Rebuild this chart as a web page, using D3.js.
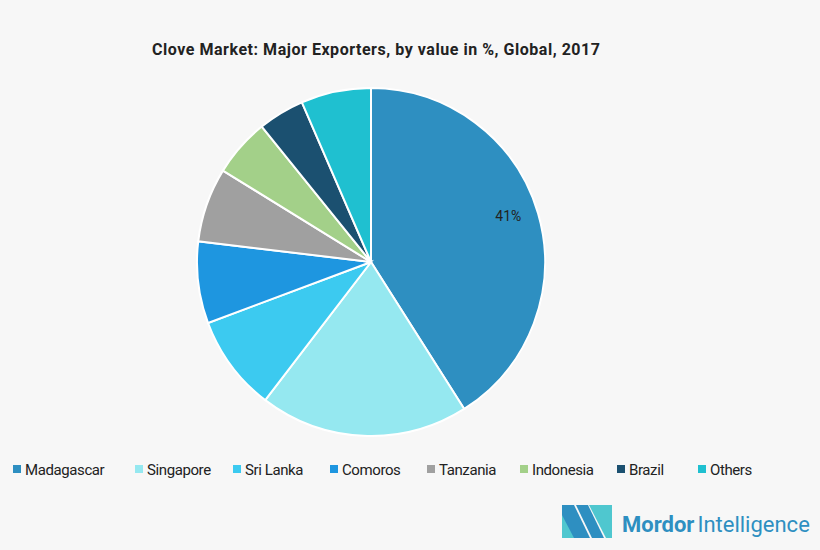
<!DOCTYPE html><html><head><meta charset="utf-8"><script src="https://d3js.org/d3.v7.min.js"></script>
<style>body{margin:0;background:#f7f7f7}text{font-family:Roboto,sans-serif}</style></head><body>
<svg id="c" width="820" height="550"></svg>
<script>
const categories=["Madagascar","Singapore","Sri Lanka","Comoros","Tanzania","Indonesia","Brazil","Others"];
const values=[41,19.4,8.9,7.6,6.9,5.4,4.3,6.5];
const labels=["41%","","","","","","",""];
const colors=["#2e8fc1","#95e8f0","#3ccaf0","#1e96e0","#a0a0a0","#a3d089","#1b5070","#1fc0d0"];
const legendX=[13,135,233,330,427,520,617,698];
const svg=d3.select("#c");
svg.append("rect").attr("width",820).attr("height",550).attr("fill","#f7f7f7");
svg.append("text").attr("x",376).attr("y",55).attr("text-anchor","middle").attr("font-size",16).attr("font-weight","bold").attr("fill","#222").attr("textLength",448).text("Clove Market: Major Exporters, by value in %, Global, 2017");
const pie=d3.pie().sort(null)(values);
const arc=d3.arc().innerRadius(0).outerRadius(174);
const g=svg.append("g").attr("transform","translate(371,262)");
g.selectAll("path").data(pie).join("path").attr("d",arc).attr("fill",(d,i)=>colors[i]).attr("stroke","#fff").attr("stroke-width",2);
const la=d3.arc().innerRadius(143).outerRadius(143);
g.selectAll("text").data(pie).join("text").attr("transform",d=>{const c=la.centroid(d);return `translate(${c[0]},${c[1]-6})`;}).attr("text-anchor","middle").attr("dy","0.35em").attr("font-size",14).attr("fill","#222").text((d,i)=>labels[i]);
const lg=svg.append("g");
categories.forEach((c,i)=>{
 lg.append("rect").attr("x",legendX[i]).attr("y",465).attr("width",8).attr("height",8).attr("fill",colors[i]);
 lg.append("text").attr("x",legendX[i]+12).attr("y",475).attr("font-size",15).attr("letter-spacing","-0.4").attr("fill","#222").text(c);
});
const lo=svg.append("g");
lo.append("polygon").attr("points","562,505 574,505 590,538 562,538").attr("fill","#2e8fc1");
lo.append("polygon").attr("points","576,505 588,505 604,538 592,538").attr("fill","#2e8fc1");
lo.append("polygon").attr("points","589,505 612,505 612,538 606,538").attr("fill","#4fc7cf");
lo.append("polygon").attr("points","562,515 574,538 562,538").attr("fill","#4fc7cf");
lo.append("text").attr("x",622).attr("y",532).attr("font-size",22).attr("fill","#2e8fc1").html('<tspan font-weight="bold">Mordor</tspan><tspan dx="3">Intelligence</tspan>');
</script></body></html>
